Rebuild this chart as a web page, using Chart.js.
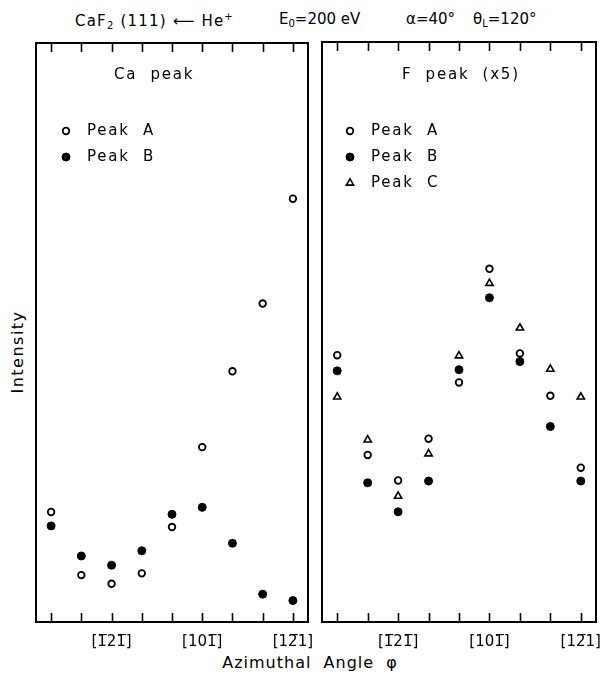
<!DOCTYPE html>
<html>
<head>
<meta charset="utf-8">
<script src="https://cdn.jsdelivr.net/npm/chart.js@4.4.1/dist/chart.umd.min.js"></script>
<style>
  body { margin: 0; background: #fff; }
  #page { position: relative; width: 603px; height: 675px; font-family: "DejaVu Sans", sans-serif; color: #000; }
  .txt { position: absolute; font-size: 15px; white-space: nowrap; line-height: 1; }
  .txt sub { font-size: 10px; vertical-align: -3px; }
  .txt sup { font-size: 10px; vertical-align: 6px; }
  #leftBox { position: absolute; left: 0; top: 0; width: 316px; height: 675px; }
  #rightBox { position: absolute; left: 316px; top: 0; width: 287px; height: 675px; }
</style>
</head>
<body>
<div id="page">
  <div class="txt" style="left:75px; top:12px; letter-spacing:1.2px;">CaF<sub>2</sub> (111) &#x27F5; He<sup>+</sup></div>
  <div class="txt" style="left:279px; top:12px;">E<sub>0</sub>=200 eV</div>
  <div class="txt" style="left:406px; top:12px;">&alpha;=40&deg;</div>
  <div class="txt" style="left:473px; top:12px;">&theta;<sub>L</sub>=120&deg;</div>
  <div class="txt" style="left:18px; top:352px; font-size:16px; letter-spacing:1.5px; transform: translate(-50%, -50%) rotate(-90deg);">Intensity</div>
  <div class="txt" style="left:310px; top:663px; font-size:16px; letter-spacing:1px; transform: translate(-50%, -50%);">Azimuthal&nbsp; Angle&nbsp; &phi;</div>
  <div id="leftBox"><canvas id="ca_chart" width="316" height="675"></canvas></div>
  <div id="rightBox"><canvas id="f_chart" width="287" height="675"></canvas></div>
</div>

<script>
// azimuth positions (9 steps) and the crystal directions under some of them
var positions = [0, 1, 2, 3, 4, 5, 6, 7, 8];
var tickLabels = ['', '', '[1\u030521\u0305]', '', '', '[101\u0305]', '', '', '[12\u03051]'];

// Ca peak (arbitrary units)
var caPeakA = [19.0, 8.1, 6.6, 8.4, 16.4, 30.2, 43.3, 55.0, 73.1];
var caPeakB = [16.6, 11.4, 9.8, 12.3, 18.6, 19.8, 13.6, 4.8, 3.7];

// F peak (x5)
var fPeakA = [46.0, 28.8, 24.4, 31.6, 41.3, 60.9, 46.3, 39.0, 26.6];
var fPeakB = [43.3, 24.0, 19.0, 24.3, 43.5, 55.9, 44.9, 33.7, 24.3];
var fPeakC = [38.8, 31.4, 21.7, 29.0, 45.9, 58.4, 50.7, 43.6, 38.8];

function toPoints(values)
{
  return values.map(function(v, i) { return { x: positions[i], y: v }; });
}

var styleA = { pointStyle: 'circle', pointRadius: 3.3, pointBorderWidth: 1.8, pointBackgroundColor: '#fff', pointBorderColor: '#000' };
var styleB = { pointStyle: 'circle', pointRadius: 4, pointBorderWidth: 1, pointBackgroundColor: '#000', pointBorderColor: '#000' };
var styleC = { pointStyle: 'triangle', pointRadius: 4.2, pointBorderWidth: 1.6, pointBackgroundColor: '#fff', pointBorderColor: '#000' };

function makeDataset(label, values, style)
{
  var ds = { label: label, data: toPoints(values), showLine: false };
  for (var k in style) ds[k] = style[k];
  return ds;
}

// frame, inward ticks, panel heading and the little legend inside the frame
var panelPlugin =
{
  id: 'panel',
  afterDraw: function(chart, args, opts)
  {
    var ctx = chart.ctx;
    var a = chart.chartArea;
    var xs = chart.scales.x;
    ctx.save();
    ctx.strokeStyle = '#000';
    ctx.lineWidth = 2;
    ctx.strokeRect(a.left, a.top, a.right - a.left, a.bottom - a.top);

    ctx.lineWidth = 1.6;
    xs.ticks.forEach(function(t)
    {
      var px = Math.round(xs.getPixelForValue(t.value)) + 0.5;
      ctx.beginPath();
      ctx.moveTo(px, a.top); ctx.lineTo(px, a.top + 9);
      ctx.moveTo(px, a.bottom); ctx.lineTo(px, a.bottom - 9);
      ctx.stroke();
    });

    ctx.fillStyle = '#000';
    ctx.font = '15px "DejaVu Sans"';
    ctx.letterSpacing = '1.8px';
    ctx.textBaseline = 'middle';
    ctx.textAlign = 'left';
    ctx.fillText(opts.heading, a.left + opts.headingX, opts.headingY);

    chart.data.datasets.forEach(function(ds, i)
    {
      var y = opts.legendY + i * opts.legendGap;
      var mx = a.left + opts.legendX;
      ctx.fillStyle = ds.pointBackgroundColor;
      ctx.strokeStyle = ds.pointBorderColor;
      ctx.lineWidth = ds.pointBorderWidth;
      Chart.helpers.drawPoint(ctx, {
        pointStyle: ds.pointStyle, radius: ds.pointRadius, rotation: 0, borderWidth: ds.pointBorderWidth
      }, mx, y);
      ctx.fillStyle = '#000';
      ctx.fillText(ds.label, mx + 21, y);
    });
    ctx.restore();
  }
};

function makeOptions(pad, panelOpts)
{
  return {
    responsive: false,
    animation: false,
    devicePixelRatio: 1,
    layout: { padding: pad },
    plugins: {
      legend: { display: false },
      tooltip: { enabled: false },
      panel: panelOpts
    },
    scales:
    {
      x:
      {
        type: 'linear',
        min: -0.5,
        max: 8.5,
        afterBuildTicks: function(s) { s.ticks = positions.map(function(v) { return { value: v }; }); },
        afterFit: function(s) { s.height = 30; s.paddingLeft = 0; s.paddingRight = 0; },
        grid: { display: false, drawTicks: false },
        border: { display: false },
        ticks:
        {
          autoSkip: false,
          maxRotation: 0,
          padding: 11,
          color: '#000',
          font: { family: 'DejaVu Sans', size: 15 },
          callback: function(v) { return tickLabels[v] || ''; }
        }
      },
      y: { display: false, min: 0, max: 100 }
    }
  };
}

var caChart = new Chart(document.getElementById('ca_chart').getContext('2d'),
{
  type: 'scatter',
  data: { datasets: [ makeDataset('Peak  A', caPeakA, styleA), makeDataset('Peak  B', caPeakB, styleB) ] },
  options: makeOptions({ left: 36, top: 43, right: 8, bottom: 23 },
    { heading: 'Ca  peak', headingX: 78, headingY: 75, legendX: 30, legendY: 131, legendGap: 26 }),
  plugins: [panelPlugin]
});

var fChart = new Chart(document.getElementById('f_chart').getContext('2d'),
{
  type: 'scatter',
  data: { datasets: [ makeDataset('Peak  A', fPeakA, styleA), makeDataset('Peak  B', fPeakB, styleB), makeDataset('Peak  C', fPeakC, styleC) ] },
  options: makeOptions({ left: 6, top: 42, right: 7, bottom: 23 },
    { heading: 'F  peak  (x5)', headingX: 80, headingY: 75, legendX: 28, legendY: 131, legendGap: 26 }),
  plugins: [panelPlugin]
});
</script>
</body>
</html>
